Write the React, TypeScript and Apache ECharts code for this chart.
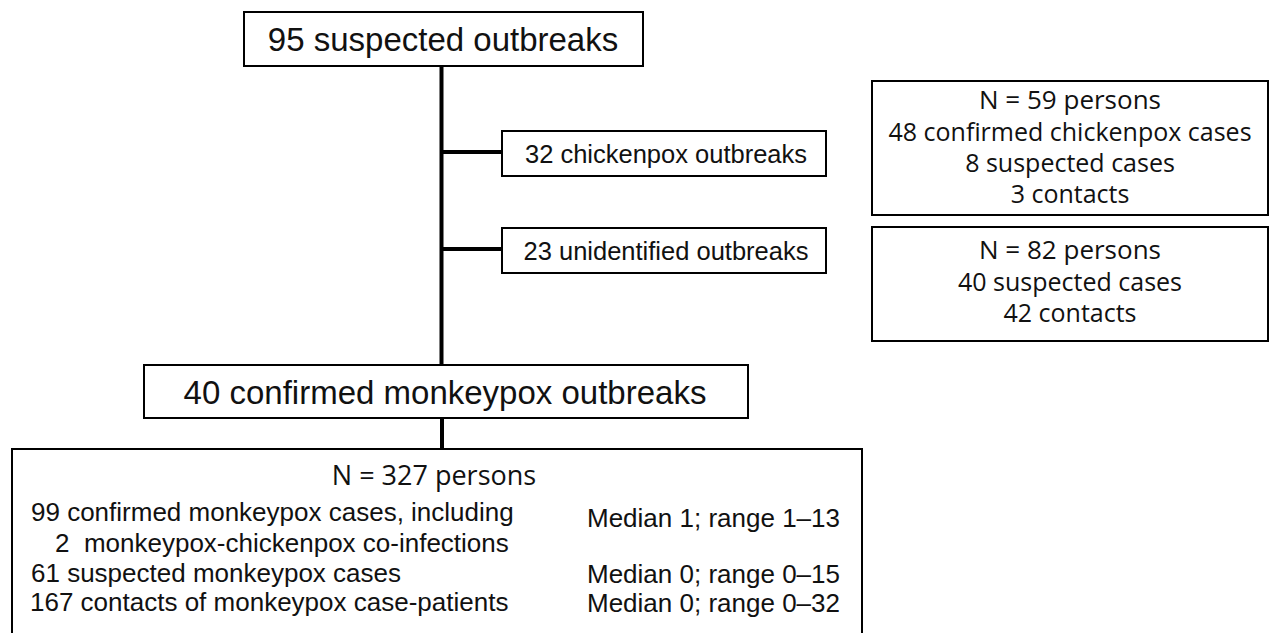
import React, { useEffect, useRef } from "react";
import * as echarts from "echarts";

// Outbreak counts shown in the flow
const flowLabels = [
  "95 suspected outbreaks",
  "32 chickenpox outbreaks",
  "23 unidentified outbreaks",
  "40 confirmed monkeypox outbreaks",
];

// Persons in chickenpox outbreaks
const chickenpoxPersons = [
  "N = 59 persons",
  "48 confirmed chickenpox cases",
  "8 suspected cases",
  "3 contacts",
];

// Persons in unidentified outbreaks
const unidentifiedPersons = ["N = 82 persons", "40 suspected cases", "42 contacts"];

// Persons in confirmed monkeypox outbreaks
const monkeypoxHeader = "N = 327 persons";
const monkeypoxGroups = [
  "99 confirmed monkeypox cases, including",
  "2\u00a0 monkeypox-chickenpox co-infections",
  "61 suspected monkeypox cases",
  "167 contacts of monkeypox case-patients",
];
const monkeypoxRanges = ["Median 1; range 1\u201313", "", "Median 0; range 0\u201315", "Median 0; range 0\u201332"];

const ARIAL = "'Liberation Sans', Arial, Helvetica, sans-serif";
const SEGOE = "'Open Sans', 'Noto Sans', sans-serif";

function line(x1: number, y1: number, x2: number, y2: number, w: number) {
  return { type: "line", shape: { x1, y1, x2, y2 }, style: { stroke: "#000", lineWidth: w } };
}
function box(x: number, y: number, width: number, height: number) {
  return {
    type: "rect",
    shape: { x, y, width, height },
    style: { fill: "#fff", stroke: "#000", lineWidth: 2 },
  };
}
function label(text: string, x: number, y: number, size: number, family: string, align = "center") {
  return {
    type: "text",
    x,
    y,
    style: {
      text,
      fontSize: size,
      fontFamily: family,
      fill: "#111",
      textAlign: align,
      align,
      textVerticalAlign: "middle",
      verticalAlign: "middle",
    },
  };
}

export default function App() {
  const ref = useRef<HTMLDivElement>(null);
  useEffect(() => {
    if (!ref.current) return;
    const chart = echarts.init(ref.current, undefined, { renderer: "svg" });
    const elements: any[] = [];
    // connectors
    elements.push(line(441.5, 66, 441.5, 366, 4));
    elements.push(line(441.5, 152, 503, 152, 4));
    elements.push(line(441.5, 249, 503, 249, 4));
    elements.push(line(442, 418, 442, 450, 4));
    // boxes
    elements.push(box(244, 12, 399, 54));
    elements.push(box(502, 131, 324, 45));
    elements.push(box(502, 228, 324, 45));
    elements.push(box(872, 81, 396, 134));
    elements.push(box(872, 227, 396, 114));
    elements.push(box(144, 365, 604, 53));
    elements.push(box(12, 449, 850, 200));
    // flow labels
    elements.push(label(flowLabels[0], 443, 39, 33, ARIAL));
    elements.push(label(flowLabels[1], 666, 154, 25.5, ARIAL));
    elements.push(label(flowLabels[2], 666, 251, 25.5, ARIAL));
    elements.push(label(flowLabels[3], 445, 392, 33, ARIAL));
    // right boxes
    const cpY = [98.5, 131, 162, 193];
    chickenpoxPersons.forEach((t, i) => elements.push(label(t, 1070, cpY[i], i === 0 ? 26 : 25, SEGOE)));
    const unY = [248.5, 281, 312];
    unidentifiedPersons.forEach((t, i) => elements.push(label(t, 1070, unY[i], i === 0 ? 26 : 25, SEGOE)));
    // bottom box
    elements.push(label(monkeypoxHeader, 434, 474, 27, SEGOE));
    const rowY = [512, 543, 573, 602];
    const rowX = [31, 55, 31, 30];
    monkeypoxGroups.forEach((t, i) => elements.push(label(t, rowX[i], rowY[i], 26, ARIAL, "left")));
    const rangeY = [518, 0, 574, 603];
    monkeypoxRanges.forEach((t, i) => {
      if (t) elements.push(label(t, 587, rangeY[i], 26, ARIAL, "left"));
    });

    chart.setOption({
      animation: false,
      backgroundColor: "#fff",
      graphic: { elements },
    });
    return () => chart.dispose();
  }, []);
  return (
    <div
      ref={ref}
      style={{ position: "fixed", left: 0, top: 0, width: 1272, height: 633, background: "#fff" }}
    />
  );
}
